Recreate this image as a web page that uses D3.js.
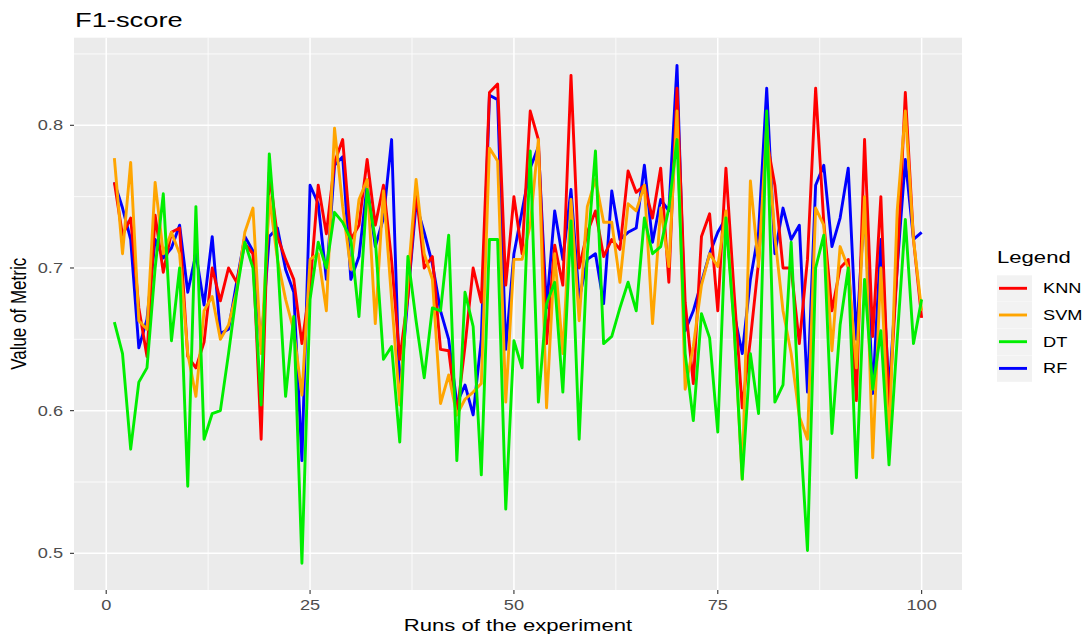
<!DOCTYPE html>
<html><head><meta charset="utf-8">
<script src="https://cdn.jsdelivr.net/npm/d3@7"></script>
<style>body{margin:0;background:#fff}svg{display:block}text{font-family:"Liberation Sans",Arial,sans-serif}</style>
</head><body><svg id="c" width="1084" height="637"></svg>
<script>
const seriesNames = ["KNN","SVM","DT","RF"];
const seriesColors = ["#FF0000","#FFA500","#00EE00","#0000FF"];
const xTicks = [0,25,50,75,100];
const yTicks = [0.5,0.6,0.7,0.8];
const knn = [0.760,0.723,0.735,0.672,0.638,0.737,0.697,0.725,0.728,0.638,0.630,0.648,0.700,0.677,0.700,0.690,0.717,0.710,0.580,0.767,
0.722,0.706,0.692,0.647,0.687,0.758,0.724,0.774,0.790,0.720,0.730,0.776,0.730,0.758,0.705,0.636,0.680,0.754,0.700,0.708,
0.643,0.642,0.597,0.645,0.700,0.676,0.823,0.829,0.688,0.750,0.710,0.810,0.790,0.647,0.716,0.688,0.835,0.700,0.725,0.740,
0.708,0.720,0.713,0.768,0.753,0.758,0.735,0.770,0.690,0.826,0.676,0.619,0.722,0.738,0.670,0.770,0.683,0.602,0.650,0.704,
0.790,0.758,0.700,0.700,0.647,0.706,0.826,0.732,0.670,0.700,0.706,0.607,0.790,0.652,0.750,0.600,0.700,0.823,0.720,0.665];
const svm = [0.777,0.710,0.774,0.663,0.657,0.760,0.710,0.725,0.710,0.640,0.610,0.670,0.680,0.650,0.660,0.684,0.725,0.742,0.640,0.750,
0.706,0.678,0.656,0.611,0.706,0.710,0.670,0.798,0.743,0.699,0.748,0.762,0.661,0.754,0.678,0.604,0.692,0.762,0.710,0.692,
0.605,0.625,0.597,0.608,0.613,0.619,0.784,0.775,0.606,0.706,0.706,0.730,0.790,0.602,0.710,0.640,0.748,0.663,0.743,0.762,
0.732,0.732,0.690,0.745,0.740,0.758,0.661,0.742,0.701,0.810,0.615,0.645,0.688,0.710,0.701,0.740,0.659,0.552,0.761,0.701,
0.800,0.722,0.670,0.640,0.596,0.580,0.742,0.730,0.642,0.715,0.700,0.630,0.750,0.567,0.700,0.577,0.740,0.810,0.720,0.670];
const dt = [0.662,0.640,0.573,0.620,0.630,0.700,0.752,0.649,0.700,0.547,0.743,0.580,0.598,0.600,0.640,0.683,0.718,0.700,0.604,0.780,
0.708,0.610,0.666,0.493,0.678,0.718,0.700,0.739,0.732,0.720,0.666,0.755,0.720,0.636,0.645,0.578,0.708,0.663,0.623,0.672,
0.670,0.723,0.565,0.683,0.659,0.555,0.720,0.720,0.531,0.649,0.630,0.782,0.606,0.675,0.690,0.613,0.733,0.580,0.710,0.782,
0.647,0.652,0.672,0.690,0.670,0.735,0.710,0.715,0.742,0.790,0.640,0.593,0.668,0.651,0.585,0.735,0.659,0.552,0.640,0.598,
0.810,0.606,0.618,0.718,0.595,0.502,0.700,0.723,0.584,0.660,0.700,0.553,0.692,0.615,0.656,0.562,0.650,0.734,0.647,0.678];
const rf = [0.760,0.742,0.720,0.644,0.664,0.720,0.707,0.714,0.730,0.683,0.710,0.674,0.722,0.654,0.657,0.690,0.722,0.712,0.645,0.722,
0.728,0.699,0.683,0.565,0.758,0.745,0.692,0.772,0.778,0.692,0.708,0.758,0.715,0.735,0.790,0.611,0.680,0.745,0.725,0.703,
0.670,0.650,0.605,0.618,0.597,0.650,0.821,0.818,0.643,0.710,0.740,0.770,0.785,0.672,0.740,0.706,0.755,0.678,0.706,0.710,
0.675,0.754,0.720,0.725,0.728,0.772,0.718,0.748,0.740,0.842,0.656,0.670,0.690,0.710,0.725,0.735,0.668,0.640,0.692,0.725,
0.826,0.710,0.742,0.720,0.730,0.613,0.758,0.772,0.715,0.735,0.770,0.650,0.745,0.612,0.720,0.613,0.700,0.776,0.720,0.725];
const runs = d3.range(1,101);
const values = [knn, svm, dt, rf];

const SX = 1.3; // horizontal text stretch of the reference
const svg = d3.select("#c");
const P = {l:74, r:962, t:37.7, b:590};
const x = d3.scaleLinear().domain([-3.95,104.95]).range([P.l,P.r]);
const y = d3.scaleLinear().domain([0.4743,0.8614]).range([P.b,P.t]);

function txt(g, s, tx, ty, size, anchor, color, rot){
  return g.append("text").text(s)
    .attr("transform", `translate(${tx},${ty}) scale(${SX},1)` + (rot ? ` rotate(${rot})` : ""))
    .attr("font-size", size).attr("text-anchor", anchor).attr("fill", color);
}

svg.append("rect").attr("x",P.l).attr("y",P.t).attr("width",P.r-P.l).attr("height",P.b-P.t).attr("fill","#EBEBEB");
const grid = svg.append("g");
[12.5,37.5,62.5,87.5].forEach(v=>grid.append("line").attr("x1",x(v)).attr("x2",x(v)).attr("y1",P.t).attr("y2",P.b).attr("stroke","#fff").attr("stroke-width",0.8));
[0.55,0.65,0.75,0.85].forEach(v=>grid.append("line").attr("y1",y(v)).attr("y2",y(v)).attr("x1",P.l).attr("x2",P.r).attr("stroke","#fff").attr("stroke-width",0.8));
xTicks.forEach(v=>grid.append("line").attr("x1",x(v)).attr("x2",x(v)).attr("y1",P.t).attr("y2",P.b).attr("stroke","#fff").attr("stroke-width",1.5));
yTicks.forEach(v=>grid.append("line").attr("y1",y(v)).attr("y2",y(v)).attr("x1",P.l).attr("x2",P.r).attr("stroke","#fff").attr("stroke-width",1.5));

const line = d3.line().x((d,i)=>x(runs[i])).y(d=>y(d));
const drawOrder = [3,0,1,2];
drawOrder.forEach(k=>{
  svg.append("path").datum(values[k]).attr("d",line).attr("fill","none")
    .attr("stroke",seriesColors[k]).attr("stroke-width",2.9).attr("stroke-linejoin","round");
});

// axes
const ax = svg.append("g");
xTicks.forEach(v=>{
  ax.append("line").attr("x1",x(v)).attr("x2",x(v)).attr("y1",P.b).attr("y2",P.b+4).attr("stroke","#333").attr("stroke-width",1.1);
  txt(ax, String(v), x(v), P.b+20, 14, "middle", "#4D4D4D");
});
yTicks.forEach(v=>{
  ax.append("line").attr("x1",P.l-4).attr("x2",P.l).attr("y1",y(v)).attr("y2",y(v)).attr("stroke","#333").attr("stroke-width",1.1);
  txt(ax, String(v), P.l-11, y(v)+5, 14, "end", "#4D4D4D");
});
txt(svg, "Runs of the experiment", (P.l+P.r)/2, 631, 17, "middle", "#000");
txt(svg, "Value of Metric", 26, (P.t+P.b)/2, 17, "middle", "#000", -90);
txt(svg, "F1-score", 75, 27, 21, "start", "#000");

// legend
const lg = svg.append("g");
txt(lg, "Legend", 997, 263, 17, "start", "#000");
seriesNames.forEach((n,i)=>{
  const cy = 288.3 + i*26.7;
  lg.append("rect").attr("x",997).attr("y",cy-13).attr("width",35).attr("height",26.4).attr("fill","#F2F2F2");
  lg.append("line").attr("x1",999).attr("x2",1027).attr("y1",cy).attr("y2",cy).attr("stroke",seriesColors[i]).attr("stroke-width",2.9);
  txt(lg, n, 1043, cy+5, 14, "start", "#000");
});
</script></body></html>
